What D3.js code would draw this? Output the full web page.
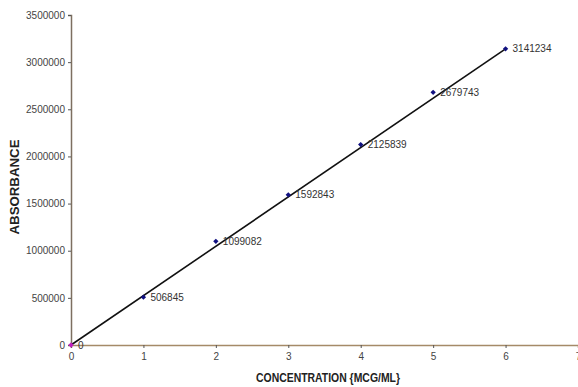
<!DOCTYPE html>
<html>
<head>
<meta charset="utf-8">
<script src="https://cdn.jsdelivr.net/npm/d3@7"></script>
<style>
  body { margin: 0; background: #fff; }
  svg { display: block; }
  .tick text { font-family: "Liberation Sans", Arial, sans-serif; font-size: 10px; fill: #444; }
  .title { font-family: "Liberation Sans", Arial, sans-serif; font-weight: bold; font-size: 13px; fill: #222; }
  .lbl { font-family: "Liberation Sans", Arial, sans-serif; font-size: 10px; fill: #333; }
</style>
</head>
<body>
<svg id="chart" width="578" height="387"></svg>
<script>
// Calibration data
const conc = [0, 1, 2, 3, 4, 5, 6];
const absorb = [0, 506845, 1099082, 1592843, 2125839, 2679743, 3141234];
// Trendline end points
const trendX = [0, 6];
const trendY = [0, 3141234];
const xTicks = [0, 1, 2, 3, 4, 5, 6, 7];
const yTicks = [0, 500000, 1000000, 1500000, 2000000, 2500000, 3000000, 3500000];

const svg = d3.select('#chart');
const m = { left: 71, top: 15 };

const x = d3.scaleLinear().domain([0, 7]).range([m.left, 578]);
const y = d3.scaleLinear().domain([0, 3500000]).range([345, m.top]);

// y axis
const ya = svg.append('g').attr('transform', `translate(${m.left},0)`)
  .call(d3.axisLeft(y).tickValues(yTicks).tickSize(3).tickPadding(3).tickFormat(d3.format('d')));
ya.select('.domain').attr('stroke', '#7d6f60').attr('stroke-width', 1.5);
ya.selectAll('.tick line').attr('stroke', '#555');

// x axis
const xa = svg.append('g').attr('transform', `translate(0,${y(0)})`)
  .call(d3.axisBottom(x).tickValues(xTicks).tickSize(3).tickPadding(5).tickFormat(d3.format('d')));
xa.select('.domain').attr('stroke', '#a58a68').attr('stroke-width', 1.5);
xa.selectAll('.tick line').attr('stroke', '#555');

// trendline
svg.append('path')
  .datum(trendX.map((v, i) => [v, trendY[i]]))
  .attr('fill', 'none').attr('stroke', '#111').attr('stroke-width', 1.6)
  .attr('d', d3.line().x(d => x(d[0])).y(d => y(d[1])));

// markers: small rotated squares
const sym = d3.symbol().type(d3.symbolSquare).size(14);
svg.selectAll('path.pt').data(conc).enter().append('path')
  .attr('class', 'pt')
  .attr('transform', (d, i) => `translate(${x(d)},${y(absorb[i])}) rotate(45)`)
  .attr('d', sym)
  .attr('fill', (d, i) => i === 0 ? '#c020c0' : '#101080');

// data labels
svg.selectAll('text.lbl').data(conc).enter().append('text')
  .attr('class', 'lbl')
  .attr('x', d => x(d) + 7)
  .attr('y', (d, i) => y(absorb[i]) + 3.5)
  .text((d, i) => absorb[i]);

// axis titles (condensed bold)
svg.append('text').attr('class', 'title')
  .attr('transform', `translate(19,187) rotate(-90)`)
  .attr('text-anchor', 'middle')
  .attr('textLength', 95).attr('lengthAdjust', 'spacingAndGlyphs')
  .text('ABSORBANCE');
svg.append('text').attr('class', 'title')
  .attr('x', 328).attr('y', 382)
  .attr('text-anchor', 'middle')
  .attr('textLength', 144).attr('lengthAdjust', 'spacingAndGlyphs')
  .text('CONCENTRATION {MCG/ML}');
</script>
</body>
</html>
